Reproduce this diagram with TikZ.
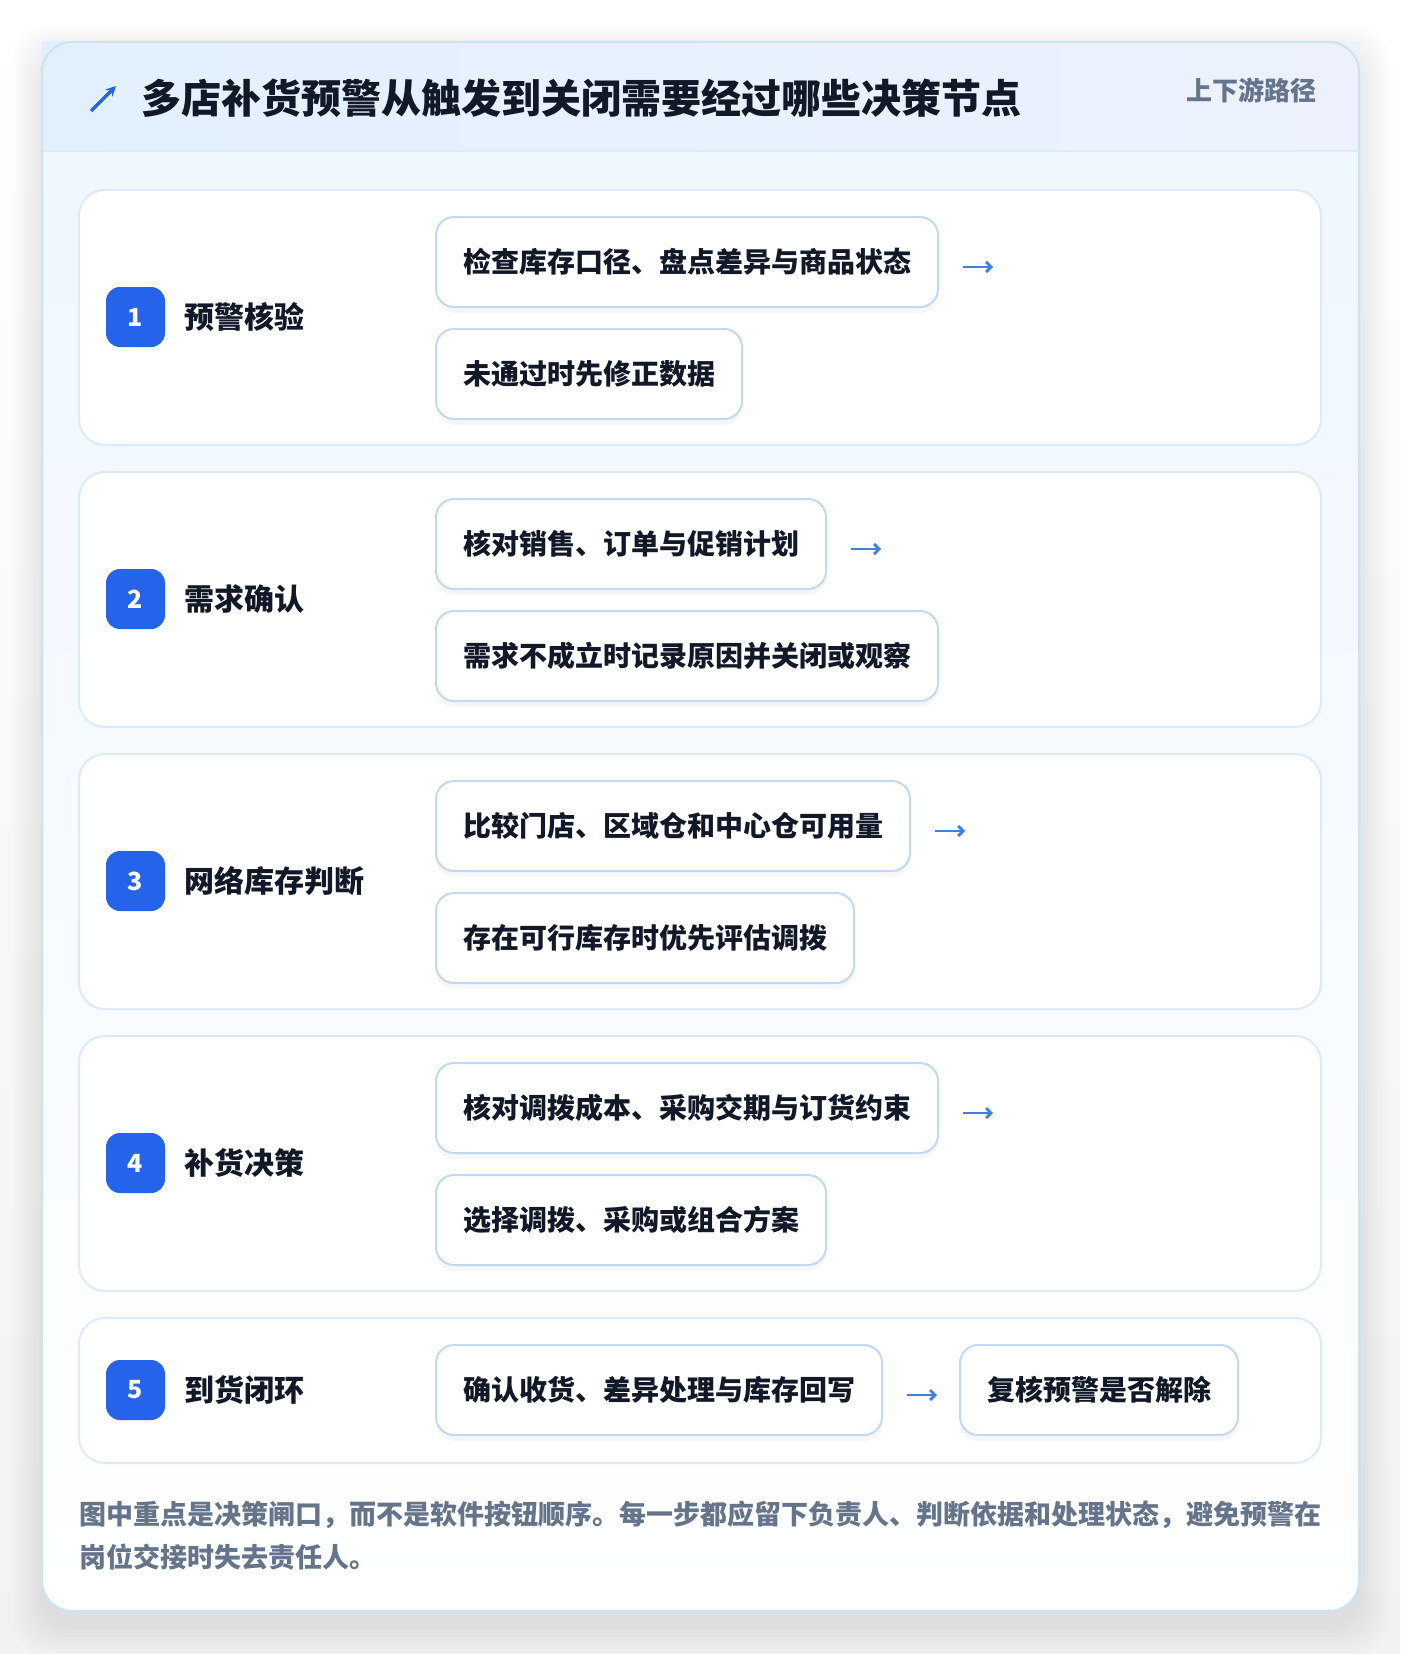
\documentclass[tikz,border=0pt]{standalone}
\usepackage{fontspec}
\setmainfont{Noto Sans CJK SC}
\usetikzlibrary{positioning,shadows,arrows.meta}

\definecolor{inkdark}{HTML}{111827}
\definecolor{inkgray}{HTML}{64748B}
\definecolor{badgeblue}{HTML}{2563EB}
\definecolor{arrowblue}{HTML}{3F7FE0}
\definecolor{cardline}{HTML}{C8E4F7}
\definecolor{rowline}{HTML}{DCEAFA}
\definecolor{boxline}{HTML}{C2D9F4}
\definecolor{headleft}{HTML}{E2F0FE}
\definecolor{headright}{HTML}{EDF1FE}
\definecolor{paneltop}{HTML}{EEF6FF}
\definecolor{pagebottom}{HTML}{F2F2F2}

\tikzset{
  rowcard/.style={draw=rowline, line width=2pt, fill=white, rounded corners=26pt},
  badge/.style={fill=badgeblue, rounded corners=14pt, minimum width=59pt, minimum height=60pt, inner sep=0pt, text=white, font=\fontsize{25}{25}\selectfont\bfseries},
  steplabel/.style={anchor=west, inner sep=0pt, text=inkdark, font=\fontsize{30}{30}\selectfont\bfseries},
  actbox/.style={draw=boxline, line width=2pt, fill=white, rounded corners=18pt, minimum height=90pt, inner xsep=27pt, inner ysep=0pt, anchor=west, text=inkdark, font=\fontsize{28}{28}\selectfont\bfseries, drop shadow={shadow xshift=0pt, shadow yshift=-6pt, opacity=0.03, fill=black}},
  flow/.style={arrowblue, line width=2.8pt, -{Straight Barb[length=5pt,width=10pt]}},
  notetext/.style={anchor=west, inner sep=0pt, text=inkgray, font=\fontsize{27}{27}\selectfont\bfseries},
}

\begin{document}
\begin{tikzpicture}[x=1pt,y=-1pt]
		%%%%% START %%%%%
		
		\shade[top color=white, bottom color=pagebottom] (0,0) rectangle (1400,1654);
		\useasboundingbox (0,0) rectangle (1400,1654);
		
		% soft shadow round the card
		\foreach \s in {1,...,10}
			\fill[black, opacity=0.006, rounded corners=36pt] (42-\s*3, 54-\s*3) rectangle (1359+\s*3, 1625+\s*3);
		
		\shade[top color=paneltop, bottom color=white, rounded corners=30pt] (42,42) rectangle (1359,1611);
		\fill[left color=headleft, right color=headright] (42,42) rectangle (1359,151);
		\draw[rowline, line width=2pt] (42,151) -- (1359,151);
		\draw[cardline, line width=2pt, rounded corners=30pt] (42,42) rectangle (1359,1611);
		
		% heading
		\draw[badgeblue, line width=3.5pt, -{Stealth[length=10pt,width=10pt]}] (91,111) -- (116,86);
		\node[anchor=west, inner sep=0pt, text=inkdark, font=\fontsize{40}{40}\selectfont\bfseries] (title) at (141,98) {多店补货预警从触发到关闭需要经过哪些决策节点};
		\node[anchor=east, inner sep=0pt, text=inkgray, font=\fontsize{26}{26}\selectfont\bfseries] (scope) at (1317,90) {上下游路径};
		
		% row 1
		\draw[rowcard] (79,190) rectangle (1321,445);
		\node[badge] (badge1) at (135.5,317) {1};
		\node[steplabel] (step1) at (184,317) {预警核验};
		\node[actbox] (act1a) at (435,262) {检查库存口径、盘点差异与商品状态};
		\node[actbox, below=20pt of act1a.south west, anchor=north west] (act1b) {未通过时先修正数据};
		\coordinate (tip1) at ([xshift=54pt,yshift=-5pt]act1a.east);
		\draw[flow, shorten <=24pt] ([yshift=-5pt]act1a.east) -- (tip1);
		
		% row 2
		\draw[rowcard] (79,472) rectangle (1321,727);
		\node[badge] (badge2) at (135.5,599) {2};
		\node[steplabel] (step2) at (184,599) {需求确认};
		\node[actbox] (act2a) at (435,544) {核对销售、订单与促销计划};
		\node[actbox, below=20pt of act2a.south west, anchor=north west] (act2b) {需求不成立时记录原因并关闭或观察};
		\coordinate (tip2) at ([xshift=54pt,yshift=-5pt]act2a.east);
		\draw[flow, shorten <=24pt] ([yshift=-5pt]act2a.east) -- (tip2);
		
		% row 3
		\draw[rowcard] (79,754) rectangle (1321,1009);
		\node[badge] (badge3) at (135.5,881) {3};
		\node[steplabel] (step3) at (184,881) {网络库存判断};
		\node[actbox] (act3a) at (435,826) {比较门店、区域仓和中心仓可用量};
		\node[actbox, below=20pt of act3a.south west, anchor=north west] (act3b) {存在可行库存时优先评估调拨};
		\coordinate (tip3) at ([xshift=54pt,yshift=-5pt]act3a.east);
		\draw[flow, shorten <=24pt] ([yshift=-5pt]act3a.east) -- (tip3);
		
		% row 4
		\draw[rowcard] (79,1036) rectangle (1321,1291);
		\node[badge] (badge4) at (135.5,1163) {4};
		\node[steplabel] (step4) at (184,1163) {补货决策};
		\node[actbox] (act4a) at (435,1108) {核对调拨成本、采购交期与订货约束};
		\node[actbox, below=20pt of act4a.south west, anchor=north west] (act4b) {选择调拨、采购或组合方案};
		\coordinate (tip4) at ([xshift=54pt,yshift=-5pt]act4a.east);
		\draw[flow, shorten <=24pt] ([yshift=-5pt]act4a.east) -- (tip4);
		
		% row 5
		\draw[rowcard] (79,1318) rectangle (1321,1463);
		\node[badge] (badge5) at (135.5,1390) {5};
		\node[steplabel] (step5) at (184,1390) {到货闭环};
		\node[actbox] (act5a) at (435,1390) {确认收货、差异处理与库存回写};
		\node[actbox, right=76pt of act5a] (act5b) {复核预警是否解除};
		\draw[flow, shorten <=24pt, shorten >=22pt] ([yshift=-5pt]act5a.east) -- ([yshift=-5pt]act5b.west);
		
		% footnote
		\node[notetext] (note1) at (79,1515) {图中重点是决策闸口，而不是软件按钮顺序。每一步都应留下负责人、判断依据和处理状态，避免预警在};
		\node[notetext] (note2) at (79,1557) {岗位交接时失去责任人。};
		
		%%%%% END %%%%%
\end{tikzpicture}
\end{document}
